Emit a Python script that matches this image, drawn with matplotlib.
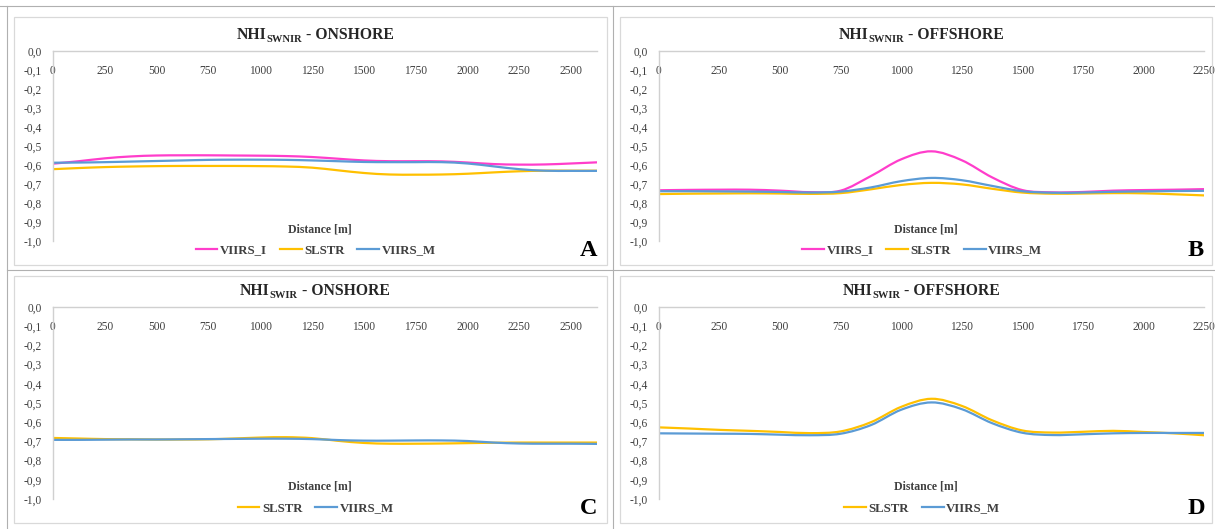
import matplotlib
matplotlib.use("Agg")
import matplotlib.pyplot as plt
import numpy as np
from matplotlib.lines import Line2D
from matplotlib.patches import Rectangle, PathPatch
from matplotlib.path import Path

plt.rcParams['font.family'] = ['Liberation Serif', 'DejaVu Serif']

# ---------------- data ----------------
x_on = [0, 125, 250, 375, 500, 625, 750, 875, 1000, 1125, 1250, 1375, 1500,
        1625, 1750, 1875, 2000, 2125, 2250, 2375, 2500, 2625]
x_off = [0, 125, 250, 375, 500, 625, 750, 875, 1000, 1125, 1250, 1375, 1500,
         1625, 1750, 1875, 2000, 2125, 2250]

# A: NHI_SWNIR onshore
a_viirs_i = [-0.593, -0.580, -0.565, -0.555, -0.550, -0.549, -0.549, -0.550, -0.551,
             -0.553, -0.558, -0.567, -0.576, -0.580, -0.580, -0.581, -0.587, -0.595,
             -0.598, -0.597, -0.592, -0.586]
a_slstr = [-0.622, -0.616, -0.611, -0.608, -0.606, -0.605, -0.605, -0.605, -0.606,
           -0.608, -0.614, -0.628, -0.642, -0.650, -0.651, -0.650, -0.646, -0.639,
           -0.633, -0.630, -0.630, -0.630]
a_viirs_m = [-0.588, -0.587, -0.585, -0.582, -0.579, -0.576, -0.573, -0.572, -0.572,
             -0.573, -0.576, -0.580, -0.584, -0.585, -0.585, -0.585, -0.592, -0.607,
             -0.622, -0.630, -0.631, -0.631]

# B: NHI_SWNIR offshore
b_viirs_i = [-0.733, -0.731, -0.730, -0.730, -0.735, -0.743, -0.735, -0.658, -0.570,
             -0.528, -0.575, -0.665, -0.732, -0.744, -0.742, -0.735, -0.732, -0.730,
             -0.727]
b_slstr = [-0.753, -0.751, -0.750, -0.749, -0.750, -0.752, -0.748, -0.728, -0.705,
           -0.694, -0.702, -0.725, -0.745, -0.751, -0.750, -0.748, -0.749, -0.754,
           -0.760]
b_viirs_m = [-0.738, -0.738, -0.739, -0.740, -0.742, -0.745, -0.740, -0.718, -0.685,
             -0.668, -0.680, -0.710, -0.738, -0.746, -0.745, -0.741, -0.739, -0.737,
             -0.736]

# C: NHI_SWIR onshore
c_slstr = [-0.682, -0.685, -0.688, -0.689, -0.690, -0.690, -0.689, -0.685, -0.680,
           -0.678, -0.683, -0.697, -0.708, -0.712, -0.712, -0.711, -0.709, -0.707,
           -0.706, -0.706, -0.706, -0.706]
c_viirs_m = [-0.692, -0.692, -0.691, -0.690, -0.690, -0.689, -0.688, -0.687, -0.686,
             -0.686, -0.688, -0.693, -0.696, -0.696, -0.695, -0.695, -0.698, -0.706,
             -0.711, -0.712, -0.712, -0.713]

# D: NHI_SWIR offshore
d_slstr = [-0.627, -0.633, -0.640, -0.645, -0.651, -0.657, -0.648, -0.600, -0.520,
           -0.478, -0.515, -0.590, -0.643, -0.654, -0.650, -0.645, -0.651, -0.658,
           -0.668]
d_viirs_m = [-0.658, -0.659, -0.660, -0.661, -0.665, -0.668, -0.660, -0.615, -0.535,
             -0.497, -0.532, -0.605, -0.655, -0.667, -0.663, -0.658, -0.656, -0.656,
             -0.656]

x_ticks_on = [0, 250, 500, 750, 1000, 1250, 1500, 1750, 2000, 2250, 2500]
x_ticks_off = [0, 250, 500, 750, 1000, 1250, 1500, 1750, 2000, 2250]
y_ticks = [0.0, -0.1, -0.2, -0.3, -0.4, -0.5, -0.6, -0.7, -0.8, -0.9, -1.0]

C_I = '#FF3DCB'
C_S = '#FFC000'
C_M = '#5B9BD5'

panels = [
    dict(pos=(53, 51, 597, 241), box=(14, 17, 607, 265), xmax=2625, xt=x_ticks_on, x=x_on,
         title=('NHI', 'SWNIR', ' - ONSHORE'), letter='A',
         series=[('VIIRS_I', a_viirs_i, C_I), ('SLSTR', a_slstr, C_S), ('VIIRS_M', a_viirs_m, C_M)]),
    dict(pos=(659, 51, 1204, 241), box=(620, 17, 1212, 265), xmax=2250, xt=x_ticks_off, x=x_off,
         title=('NHI', 'SWNIR', ' - OFFSHORE'), letter='B',
         series=[('VIIRS_I', b_viirs_i, C_I), ('SLSTR', b_slstr, C_S), ('VIIRS_M', b_viirs_m, C_M)]),
    dict(pos=(53, 307, 597, 499), box=(14, 276, 607, 523), xmax=2625, xt=x_ticks_on, x=x_on,
         title=('NHI', 'SWIR', ' - ONSHORE'), letter='C',
         series=[('SLSTR', c_slstr, C_S), ('VIIRS_M', c_viirs_m, C_M)]),
    dict(pos=(659, 307, 1204, 499), box=(620, 276, 1212, 523), xmax=2250, xt=x_ticks_off, x=x_off,
         title=('NHI', 'SWIR', ' - OFFSHORE'), letter='D',
         series=[('SLSTR', d_slstr, C_S), ('VIIRS_M', d_viirs_m, C_M)]),
]


def smooth_path(xs, ys):
    """Excel-style smoothed line: cubic Bezier segments through the data points."""
    pts = np.column_stack([xs, ys]).astype(float)
    n = len(pts)
    verts = [pts[0]]
    codes = [Path.MOVETO]
    for i in range(n - 1):
        p0 = pts[i - 1] if i > 0 else pts[i]
        p1 = pts[i]
        p2 = pts[i + 1]
        p3 = pts[i + 2] if i + 2 < n else pts[i + 1]
        verts += [p1 + (p2 - p0) / 6.0, p2 - (p3 - p1) / 6.0, p2]
        codes += [Path.CURVE4] * 3
    return Path(verts, codes)


W, H = 1215, 529
fig = plt.figure(figsize=(W / 100, H / 100), dpi=100)
fig.patch.set_facecolor('white')
renderer = fig.canvas.get_renderer()


def fx(px):
    return px / W


def fy(py):
    return 1 - py / H


# table lines
LC = '#B0B0B0'
fig.add_artist(Line2D([fx(0), fx(W)], [fy(6), fy(6)], color=LC, lw=0.8))
fig.add_artist(Line2D([fx(7), fx(7)], [fy(6), fy(H)], color=LC, lw=0.8))
fig.add_artist(Line2D([fx(613), fx(613)], [fy(6), fy(H)], color=LC, lw=0.8))
fig.add_artist(Line2D([fx(7), fx(W)], [fy(270), fy(270)], color=LC, lw=0.8))

AX_COL = '#D0D0D0'
TXT = '#404040'
TTL = '#262626'


def draw_title(cx_px, cy_px, parts):
    main, sub, rest = parts
    kw = dict(fontweight='bold', color=TTL, va='baseline', ha='left')
    base_y = fy(cy_px + 5)
    t1 = fig.text(0, base_y, main, fontsize=11.3, **kw)
    t2 = fig.text(0, fy(cy_px + 8), sub, fontsize=7.6, **kw)
    t3 = fig.text(0, base_y, rest, fontsize=11.3, **kw)
    w1 = t1.get_window_extent(renderer).width
    w2 = t2.get_window_extent(renderer).width
    w3 = t3.get_window_extent(renderer).width
    total = w1 + w2 + w3
    x0 = cx_px - total / 2
    t1.set_x(fx(x0))
    t2.set_x(fx(x0 + w1))
    t3.set_x(fx(x0 + w1 + w2))


for p in panels:
    l, t, r, b = p['pos']
    bl, bt, br, bb = p['box']
    fig.add_artist(Rectangle((fx(bl), fy(bb)), fx(br - bl), (bb - bt) / H,
                             fill=False, edgecolor='#D9D9D9', lw=0.9))
    ax = fig.add_axes([fx(l), fy(b), fx(r - l), (b - t) / H])
    handles = []
    for name, vals, col in p['series']:
        ax.add_patch(PathPatch(smooth_path(p['x'], vals), facecolor='none', edgecolor=col,
                               lw=1.6, capstyle='round', joinstyle='round'))
        handles.append(Line2D([], [], color=col, lw=1.6, label=name))
    ax.set_xlim(0, p['xmax'])
    ax.set_ylim(-1.0, 0.0)
    ax.spines['top'].set_visible(False)
    ax.spines['right'].set_visible(False)
    ax.spines['bottom'].set_position(('data', 0))
    ax.spines['bottom'].set_color(AX_COL)
    ax.spines['left'].set_color(AX_COL)
    ax.spines['bottom'].set_linewidth(1.0)
    ax.spines['left'].set_linewidth(1.0)
    ax.set_xticks(p['xt'])
    ax.set_xticklabels([str(v) for v in p['xt']])
    ax.set_yticks(y_ticks)
    ax.set_yticklabels([('%.1f' % v).replace('.', ',') for v in y_ticks])
    ax.tick_params(axis='x', length=0, pad=10, labelsize=8.3, labelcolor=TXT)
    ax.tick_params(axis='y', length=0, pad=8, labelsize=8.3, labelcolor=TXT)
    ax.patch.set_alpha(0)
    ax.text(0.49, 0.063, 'Distance [m]', transform=ax.transAxes, ha='center', va='center',
            fontsize=8.5, fontweight='bold', color=TXT)
    ax.text(0.985, -0.05, p['letter'], transform=ax.transAxes, ha='center', va='center',
            fontsize=17.5, fontweight='bold', color='black')
    draw_title((l + r) / 2 - 10, t - 17, p['title'])
    leg = ax.legend(handles=handles, loc='center', bbox_to_anchor=(0.483, -0.05),
                    ncol=len(handles), frameon=False, handlelength=1.7, handletextpad=0.2,
                    columnspacing=1.0, prop={'weight': 'bold', 'size': 9.2})
    for txt in leg.get_texts():
        txt.set_color(TXT)

fig.savefig('out.png', dpi=100, facecolor='white')
